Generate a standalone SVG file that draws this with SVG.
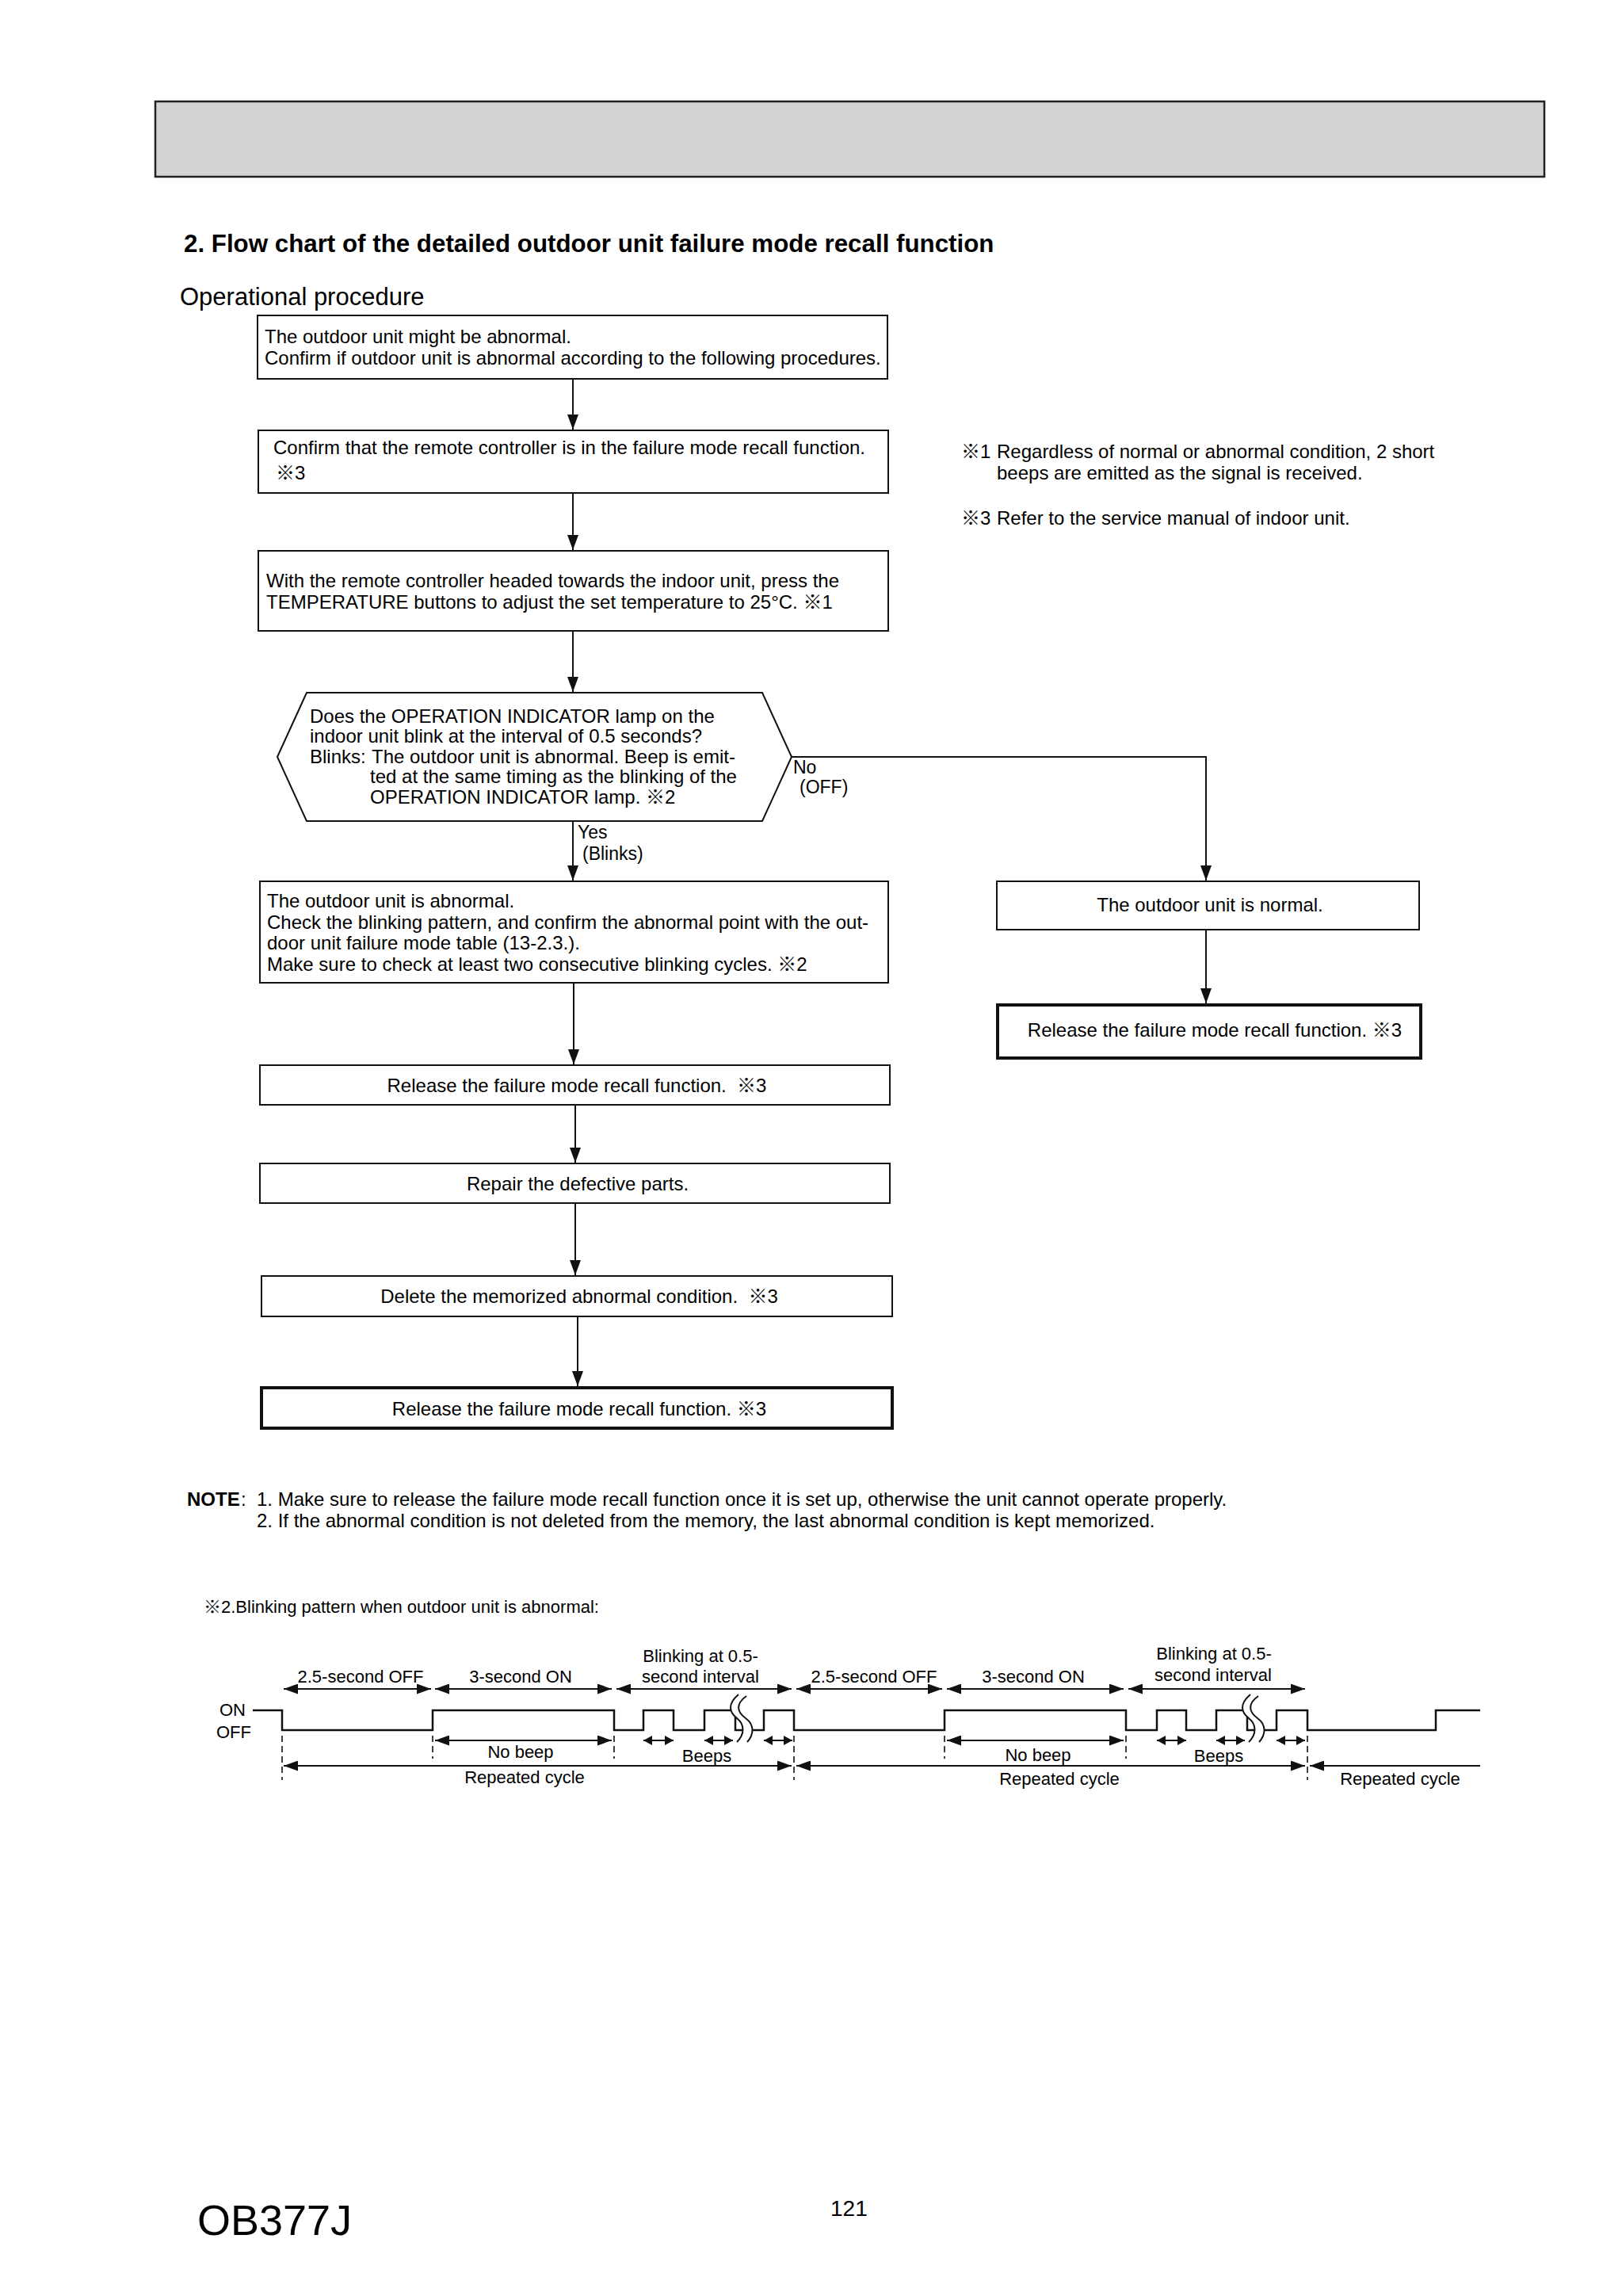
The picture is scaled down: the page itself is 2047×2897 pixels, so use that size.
<svg xmlns="http://www.w3.org/2000/svg" width="2047" height="2897" viewBox="0 0 2047 2897">
<style>
text{font-family:"Liberation Sans",Arial,"Noto Sans CJK JP",sans-serif;fill:#000;}
.t{font-size:24px;}
.c{font-size:24px;text-anchor:middle;}
.s{font-size:22px;text-anchor:middle;}
.box{fill:#fff;stroke:#111;stroke-width:2;}
.thick{fill:#fff;stroke:#111;stroke-width:4;}
.ln{fill:none;stroke:#111;stroke-width:2;}
.wave{fill:none;stroke:#111;stroke-width:2.5;}
.dash{fill:none;stroke:#111;stroke-width:1.6;stroke-dasharray:8 5;}
.ta{fill:none;stroke:#111;stroke-width:2;marker-start:url(#th);marker-end:url(#th);}
.tb{fill:none;stroke:#111;stroke-width:2;marker-start:url(#tsm);marker-end:url(#tsm);}
</style>
<defs>
<marker id="ah" viewBox="0 0 19 14" refX="19" refY="7" markerWidth="19" markerHeight="14" markerUnits="userSpaceOnUse" orient="auto"><path d="M0,0 L19,7 L0,14 z" fill="#111"/></marker>
<marker id="th" viewBox="0 0 18 13" refX="18" refY="6.5" markerWidth="18" markerHeight="13" markerUnits="userSpaceOnUse" orient="auto-start-reverse"><path d="M0,0 L18,6.5 L0,13 z" fill="#111"/></marker>
<marker id="tsm" viewBox="0 0 11 12" refX="11" refY="6" markerWidth="11" markerHeight="12" markerUnits="userSpaceOnUse" orient="auto-start-reverse"><path d="M0,0 L11,6 L0,12 z" fill="#111"/></marker>
</defs>
<rect width="2047" height="2897" fill="#fff"/>

<g id="header">
<rect x="196" y="128" width="1753" height="95" fill="#d3d3d3" stroke="#222" stroke-width="2.5"/>
</g>
<g id="title">
<text x="232" y="318" font-size="31.3" font-weight="bold">2. Flow chart of the detailed outdoor unit failure mode recall function</text>
<text x="227" y="385" font-size="31">Operational procedure</text>
</g>

<g id="connectors">
<line class="ln" x1="723" y1="479" x2="723" y2="542" marker-end="url(#ah)"/>
<line class="ln" x1="723" y1="623" x2="723" y2="694" marker-end="url(#ah)"/>
<line class="ln" x1="723" y1="797" x2="723" y2="873" marker-end="url(#ah)"/>
<line class="ln" x1="723" y1="1037" x2="723" y2="1111" marker-end="url(#ah)"/>
<line class="ln" x1="724" y1="1241" x2="724" y2="1343" marker-end="url(#ah)"/>
<line class="ln" x1="726" y1="1395" x2="726" y2="1467" marker-end="url(#ah)"/>
<line class="ln" x1="726" y1="1519" x2="726" y2="1609" marker-end="url(#ah)"/>
<line class="ln" x1="729" y1="1662" x2="729" y2="1749" marker-end="url(#ah)"/>
<path class="ln" d="M999,955 H1522 V1111" marker-end="url(#ah)"/>
<line class="ln" x1="1522" y1="1174" x2="1522" y2="1266" marker-end="url(#ah)"/>
<text x="729" y="1058" font-size="23">Yes</text>
<text x="735" y="1085" font-size="23">(Blinks)</text>
<text x="1001" y="976" font-size="23">No</text>
<text x="1009" y="1001" font-size="23">(OFF)</text>
</g>

<g id="n1">
<rect class="box" x="325" y="398" width="795" height="80"/>
<text class="t" x="334" y="433">The outdoor unit might be abnormal.</text>
<text class="t" x="334" y="460">Confirm if outdoor unit is abnormal according to the following procedures.</text>
</g>
<g id="n2">
<rect class="box" x="326" y="543" width="795" height="79"/>
<text class="t" x="345" y="573">Confirm that the remote controller is in the failure mode recall function.</text>
<text class="t" x="348" y="605">※3</text>
</g>
<g id="n3">
<rect class="box" x="326" y="695" width="795" height="101"/>
<text class="t" x="336" y="741">With the remote controller headed towards the indoor unit, press the</text>
<text class="t" x="336" y="768">TEMPERATURE buttons to adjust the set temperature to 25°C.  ※1</text>
</g>
<g id="n4">
<polygon class="box" points="350,955 387,874 962,874 999,955 962,1036 387,1036"/>
<text class="t" x="391" y="912">Does the OPERATION INDICATOR lamp on the</text>
<text class="t" x="391" y="937">indoor unit blink at the interval of 0.5 seconds?</text>
<text class="t" x="391" y="963">Blinks:</text>
<text class="t" x="469" y="963">The outdoor unit is abnormal. Beep is emit-</text>
<text class="t" x="467" y="988">ted at the same timing as the blinking of the</text>
<text class="t" x="467" y="1014">OPERATION INDICATOR lamp. ※2</text>
</g>
<g id="n5">
<rect class="box" x="328" y="1112" width="793" height="128"/>
<text class="t" x="337" y="1145">The outdoor unit is abnormal.</text>
<text class="t" x="337" y="1172">Check the blinking pattern, and confirm the abnormal point with the out-</text>
<text class="t" x="337" y="1198">door unit failure mode table (13-2.3.).</text>
<text class="t" x="337" y="1225">Make sure to check at least two consecutive blinking cycles.  ※2</text>
</g>
<g id="n6">
<rect class="box" x="328" y="1344" width="795" height="50"/>
<text class="c" x="728" y="1378">Release the failure mode recall function. &#160;※3</text>
</g>
<g id="n7">
<rect class="box" x="328" y="1468" width="795" height="50"/>
<text class="c" x="729" y="1502">Repair the defective parts.</text>
</g>
<g id="n8">
<rect class="box" x="330" y="1610" width="796" height="51"/>
<text class="c" x="731" y="1644">Delete the memorized abnormal condition. &#160;※3</text>
</g>
<g id="n9">
<rect class="thick" x="330" y="1751" width="796" height="51"/>
<text class="c" x="731" y="1786">Release the failure mode recall function. ※3</text>
</g>
<g id="n10">
<rect class="box" x="1258" y="1112" width="533" height="61"/>
<text class="c" x="1527" y="1150">The outdoor unit is normal.</text>
</g>
<g id="n11">
<rect class="thick" x="1259" y="1268" width="534" height="67"/>
<text class="c" x="1533" y="1308">Release the failure mode recall function. ※3</text>
</g>

<g id="footnotes">
<text class="t" x="1213" y="578">※1</text>
<text class="t" x="1258" y="578">Regardless of normal or abnormal condition, 2 short</text>
<text class="t" x="1258" y="605">beeps are emitted as the signal is received.</text>
<text class="t" x="1213" y="662">※3</text>
<text class="t" x="1258" y="662">Refer to the service manual of indoor unit.</text>
</g>

<g id="note">
<text x="236" y="1900" font-size="24" font-weight="bold">NOTE</text>
<text class="t" x="304" y="1900">:</text>
<text class="t" x="324" y="1900">1. Make sure to release the failure mode recall function once it is set up, otherwise the unit cannot operate properly.</text>
<text class="t" x="324" y="1927">2. If the abnormal condition is not deleted from the memory, the last abnormal condition is kept memorized.</text>
<text x="257" y="2035" font-size="22">※2.Blinking pattern when outdoor unit is abnormal:</text>
</g>

<g id="timing">
<text x="277" y="2165" font-size="22">ON</text>
<text x="273" y="2193" font-size="22">OFF</text>
<path class="wave" d="M319,2158 H356 V2183 H546 V2158 H775 V2183 H812 V2158 H850 V2183 H889 V2158 H928 V2183 H964 V2158 H1002 V2183 H1192 V2158 H1421 V2183 H1460 V2158 H1497 V2183 H1535 V2158 H1574 V2183 H1611 V2158 H1650 V2183 H1812 V2158 H1868"/>
<g id="squiggle1">
<path d="M932,2138 C918,2150 920,2160 930,2168 C940,2176 940,2188 930,2198 L943,2198 C952,2188 952,2176 941,2168 C930,2160 928,2150 942,2140 Z" fill="#fff"/>
<path class="ln" d="M932,2138 C918,2150 920,2160 930,2168 C940,2176 940,2188 930,2198"/>
<path class="ln" d="M942,2140 C928,2150 930,2160 941,2168 C952,2176 952,2188 943,2198"/>
</g>
<g id="squiggle2" transform="translate(646,0)">
<path d="M932,2138 C918,2150 920,2160 930,2168 C940,2176 940,2188 930,2198 L943,2198 C952,2188 952,2176 941,2168 C930,2160 928,2150 942,2140 Z" fill="#fff"/>
<path class="ln" d="M932,2138 C918,2150 920,2160 930,2168 C940,2176 940,2188 930,2198"/>
<path class="ln" d="M942,2140 C928,2150 930,2160 941,2168 C952,2176 952,2188 943,2198"/>
</g>
<line class="ta" x1="358" y1="2131" x2="544" y2="2131"/>
<line class="ta" x1="549" y1="2131" x2="772" y2="2131"/>
<line class="ta" x1="778" y1="2131" x2="999" y2="2131"/>
<line class="ta" x1="1005" y1="2131" x2="1189" y2="2131"/>
<line class="ta" x1="1195" y1="2131" x2="1418" y2="2131"/>
<line class="ta" x1="1424" y1="2131" x2="1647" y2="2131"/>
<line class="ta" x1="549" y1="2196" x2="772" y2="2196"/>
<line class="ta" x1="1195" y1="2196" x2="1418" y2="2196"/>
<line class="tb" x1="812" y1="2196" x2="850" y2="2196"/>
<line class="tb" x1="889" y1="2196" x2="925" y2="2196"/>
<line class="tb" x1="964" y1="2196" x2="1000" y2="2196"/>
<line class="tb" x1="1460" y1="2196" x2="1497" y2="2196"/>
<line class="tb" x1="1535" y1="2196" x2="1571" y2="2196"/>
<line class="tb" x1="1611" y1="2196" x2="1647" y2="2196"/>
<line class="ta" x1="358" y1="2228" x2="999" y2="2228"/>
<line class="ta" x1="1005" y1="2228" x2="1647" y2="2228"/>
<line class="ln" x1="1653" y1="2228" x2="1868" y2="2228" marker-start="url(#th)"/>
<line class="dash" x1="356" y1="2190" x2="356" y2="2246"/>
<line class="dash" x1="546" y1="2190" x2="546" y2="2219"/>
<line class="dash" x1="775" y1="2190" x2="775" y2="2219"/>
<line class="dash" x1="1002" y1="2190" x2="1002" y2="2246"/>
<line class="dash" x1="1192" y1="2190" x2="1192" y2="2219"/>
<line class="dash" x1="1421" y1="2190" x2="1421" y2="2219"/>
<line class="dash" x1="1650" y1="2190" x2="1650" y2="2246"/>
<text class="s" x="455" y="2123">2.5-second OFF</text>
<text class="s" x="657" y="2123">3-second ON</text>
<text class="s" x="884" y="2097">Blinking at 0.5-</text>
<text class="s" x="884" y="2123">second interval</text>
<text class="s" x="657" y="2218">No beep</text>
<text class="s" x="892" y="2223">Beeps</text>
<text class="s" x="662" y="2250">Repeated cycle</text>
<text class="s" x="1103" y="2123">2.5-second OFF</text>
<text class="s" x="1304" y="2123">3-second ON</text>
<text class="s" x="1532" y="2094">Blinking at 0.5-</text>
<text class="s" x="1531" y="2121">second interval</text>
<text class="s" x="1310" y="2222">No beep</text>
<text class="s" x="1538" y="2223">Beeps</text>
<text class="s" x="1337" y="2252">Repeated cycle</text>
<text class="s" x="1767" y="2252">Repeated cycle</text>
</g>

<g id="footer">
<text x="249" y="2820" font-size="54">OB377J</text>
<text x="1048" y="2796" font-size="28">121</text>
</g>
</svg>
